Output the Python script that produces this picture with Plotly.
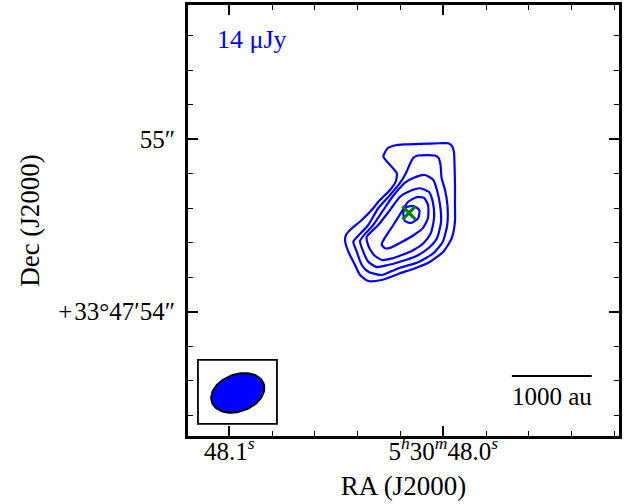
import numpy as np
import plotly.graph_objects as go

# ---- data: contour paths (RA offset east [arcsec], Dec offset [arcsec]) relative to 5h30m48.0s +33d47'55"
contour1_x = [0.324, 0.271, 0.223, 0.136, 0.019, -0.029, -0.051, -0.062, -0.065, -0.068, -0.068, -0.068,
              -0.049, 0.000, 0.077, 0.175, 0.252, 0.291, 0.359, 0.437, 0.485, 0.514, 0.553, 0.572, 0.567,
              0.543, 0.475, 0.408, 0.379, 0.310, 0.277, 0.271, 0.310, 0.349]
contour1_y = [-0.052, -0.033, -0.029, -0.027, -0.023, -0.023, -0.039, -0.074, -0.132, -0.265, -0.381, -0.478,
              -0.574, -0.652, -0.710, -0.752, -0.777, -0.793, -0.816, -0.822, -0.787, -0.729, -0.652, -0.590, -0.555,
              -0.526, -0.468, -0.400, -0.362, -0.294, -0.246, -0.197, -0.149, -0.101]

contour2_x = [0.524, 0.504, 0.475, 0.437, 0.359, 0.299, 0.252, 0.146, 0.058, 0.003, -0.023, -0.024, -0.010,
              0.010, 0.016, 0.028, 0.048, 0.147, 0.175, 0.197, 0.217, 0.252, 0.310, 0.379, 0.437, 0.497]
contour2_y = [-0.594, -0.652, -0.729, -0.768, -0.787, -0.764, -0.745, -0.713, -0.661, -0.594, -0.497, -0.381, -0.294,
              -0.224, -0.149, -0.108, -0.094, -0.094, -0.108, -0.149, -0.195, -0.253, -0.323, -0.400, -0.497, -0.561]

contour3_x = [0.485, 0.466, 0.437, 0.388, 0.322, 0.252, 0.165, 0.087, 0.037, 0.013, 0.019, 0.037, 0.058,
              0.107, 0.175, 0.223, 0.264, 0.310, 0.349, 0.408, 0.456]
contour3_y = [-0.590, -0.652, -0.710, -0.741, -0.729, -0.710, -0.681, -0.632, -0.574, -0.478, -0.381, -0.294, -0.236,
              -0.207, -0.224, -0.251, -0.294, -0.352, -0.410, -0.497, -0.549]

contour4_x = [0.446, 0.436, 0.404, 0.357, 0.299, 0.252, 0.184, 0.116, 0.073, 0.054, 0.060, 0.083, 0.136,
              0.194, 0.252, 0.310, 0.379]
contour4_y = [-0.567, -0.619, -0.671, -0.700, -0.691, -0.675, -0.648, -0.603, -0.545, -0.458, -0.369, -0.306, -0.284,
              -0.300, -0.333, -0.410, -0.497]

contour5_x = [0.359, 0.340, 0.310, 0.242, 0.171, 0.118, 0.089, 0.089, 0.112, 0.153, 0.206, 0.242, 0.291, 0.334]
contour5_y = [-0.609, -0.632, -0.630, -0.596, -0.555, -0.514, -0.456, -0.381, -0.340, -0.335, -0.364, -0.420, -0.497, -0.561]

contour6_x = [0.223, 0.171, 0.139, 0.147, 0.188, 0.223, 0.233]
contour6_y = [-0.396, -0.387, -0.413, -0.459, -0.485, -0.474, -0.433]

peak_x = [0.200]
peak_y = [-0.427]

# tick positions / labels
x_tickvals = [1.2465, 0.0]
x_ticktext = ["48.1<sup><i>s</i></sup>", "5<sup><i>h</i></sup>30<sup><i>m</i></sup>48.0<sup><i>s</i></sup>"]
y_tickvals = [0.0, -1.0]
y_ticktext = ["55″", "+\u200a33°47′54″"]

rms_label = "14 μJy"
beam_major = 0.32     # arcsec (FWHM)
beam_minor = 0.215    # arcsec
beam_pa = -70.0       # deg
scale_au = 1000
distance_pc = 2150

x_range = [1.4869, -1.0233]
y_range = [-1.7210, 0.7790]

FONT = "Liberation Serif"

fig = go.Figure()

contours = [(contour1_x, contour1_y), (contour2_x, contour2_y), (contour3_x, contour3_y),
            (contour4_x, contour4_y), (contour5_x, contour5_y), (contour6_x, contour6_y)]
for cx, cy in contours:
    fig.add_trace(go.Scatter(x=list(cx) + [cx[0]], y=list(cy) + [cy[0]], mode="lines",
                             line=dict(color="#0000ff", width=2.2, shape="spline", smoothing=0.6),
                             hoverinfo="skip", showlegend=False))

fig.add_trace(go.Scatter(x=peak_x, y=peak_y, mode="markers",
                         marker=dict(symbol="x-thin", size=13, line=dict(color="#008000", width=3.2)),
                         showlegend=False))

# beam box and ellipse (lower-left corner)
box_x0 = x_range[0] - 0.058
box_x1 = x_range[0] - 0.518
box_y0 = y_range[0] + 0.070
box_y1 = y_range[0] + 0.441
fig.add_shape(type="rect", x0=box_x0, x1=box_x1, y0=box_y0, y1=box_y1,
              line=dict(color="black", width=1.8), fillcolor="white", layer="below")
bcx = x_range[0] - 0.290
bcy = y_range[0] + 0.250
t = np.linspace(0, 2 * np.pi, 100)
phi = np.deg2rad(beam_pa)
a, b = beam_major / 2, beam_minor / 2
ex = bcx + a * np.cos(t) * np.sin(phi) + b * np.sin(t) * np.cos(phi)
ey = bcy + a * np.cos(t) * np.cos(phi) - b * np.sin(t) * np.sin(phi)
fig.add_trace(go.Scatter(x=ex, y=ey, mode="lines", fill="toself", fillcolor="#0000ff",
                         line=dict(color="black", width=2), hoverinfo="skip", showlegend=False))

# scale bar
bar_len = scale_au / distance_pc
bar_right = x_range[1] + 0.159
bar_y = y_range[0] + 0.348
fig.add_shape(type="line", x0=bar_right, x1=bar_right + bar_len, y0=bar_y, y1=bar_y,
              line=dict(color="black", width=2))
fig.add_annotation(x=bar_right + bar_len / 2, y=y_range[0] + 0.232, text=f"{scale_au} au",
                   showarrow=False, font=dict(family=FONT, size=25, color="black"),
                   xanchor="center", yanchor="middle")

fig.add_annotation(xref="paper", yref="paper", x=0.063, y=0.921, text=rms_label, showarrow=False,
                   font=dict(family=FONT, size=26, color="#0000ff"), xanchor="left", yanchor="middle")

axis_common = dict(showline=True, linecolor="black", linewidth=2.5, mirror="ticks", ticks="inside",
                   ticklen=10, tickwidth=1.5, tickcolor="black", showgrid=False, zeroline=False,
                   tickfont=dict(family=FONT, size=25, color="black"))

fig.update_xaxes(range=x_range, tickmode="array", tickvals=x_tickvals, ticktext=x_ticktext,
                 title=dict(text="RA (J2000)", font=dict(family=FONT, size=27, color="black"), standoff=13),
                 minor=dict(ticks="inside", ticklen=5, tickwidth=1.3, tickcolor="black",
                            tick0=0, dtick=0.24929, showgrid=False),
                 ticklabelstandoff=-9, **axis_common)
fig.update_yaxes(range=y_range, tickmode="array", tickvals=y_tickvals, ticktext=y_ticktext,
                 title=dict(text="Dec (J2000)", font=dict(family=FONT, size=27, color="black"), standoff=11),
                 minor=dict(ticks="inside", ticklen=5, tickwidth=1.3, tickcolor="black",
                            tick0=0, dtick=0.2, showgrid=False),
                 ticklabelstandoff=5, **axis_common)

fig.update_layout(width=633, height=504, margin=dict(l=188, r=14, t=5, b=68, autoexpand=False),
                  paper_bgcolor="white", plot_bgcolor="white", showlegend=False,
                  font=dict(family=FONT, color="black"))

fig.write_html("out.html", config={"displayModeBar": False},
               post_script="document.body.style.margin='0';")
